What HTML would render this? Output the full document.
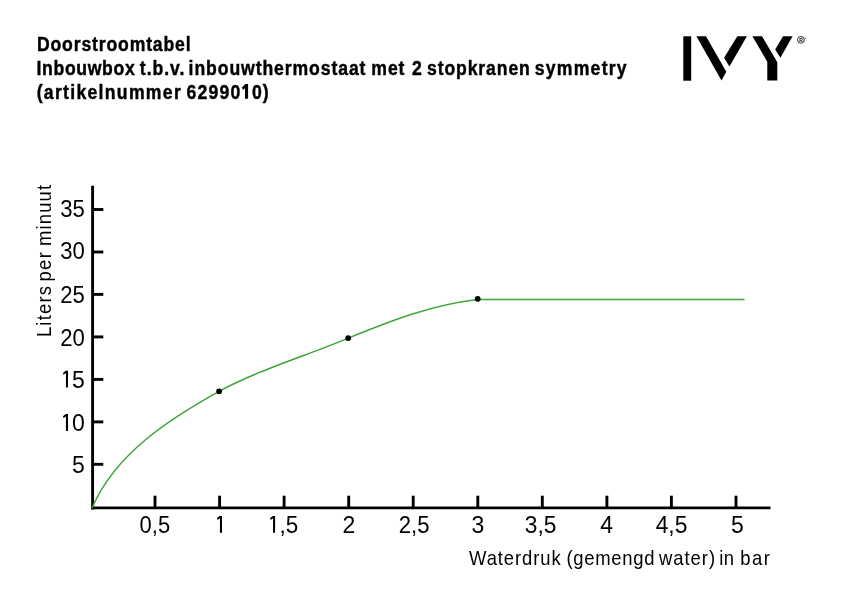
<!DOCTYPE html>
<html><head><meta charset="utf-8">
<style>
html,body{margin:0;padding:0;background:#fff;width:842px;height:595px;overflow:hidden;}
svg{position:absolute;left:0;top:0;will-change:transform;}
text{font-family:"Liberation Sans",sans-serif;fill:#000;}
.t{font-weight:bold;font-size:21.0px;stroke:#000;stroke-width:0.45px;}
.n{font-size:23px;}
.l{font-size:20.5px;}
</style></head><body>
<svg width="842" height="595" viewBox="0 0 842 595">
<text class="t" transform="translate(36.91,50.60) scale(0.840,1)" textLength="183.01" lengthAdjust="spacing">Doorstroomtabel</text>
<text class="t" transform="translate(36.53,74.80) scale(0.840,1)" textLength="116.87" lengthAdjust="spacing">Inbouwbox</text>
<text class="t" transform="translate(139.84,74.80) scale(0.840,1)" textLength="52.95" lengthAdjust="spacing">t.b.v.</text>
<text class="t" transform="translate(188.60,74.80) scale(0.840,1)" textLength="210.60" lengthAdjust="spacing">inbouwthermostaat</text>
<text class="t" transform="translate(371.29,74.80) scale(0.840,1)" textLength="39.53" lengthAdjust="spacing">met</text>
<text class="t" transform="translate(412.01,74.80) scale(0.840,1)" textLength="25.59" lengthAdjust="spacing">2</text>
<text class="t" transform="translate(426.97,74.80) scale(0.840,1)" textLength="122.53" lengthAdjust="spacing">stopkranen</text>
<text class="t" transform="translate(534.73,74.80) scale(0.840,1)" textLength="109.41" lengthAdjust="spacing">symmetry</text>
<text class="t" transform="translate(36.63,98.80) scale(0.840,1)" textLength="171.62" lengthAdjust="spacing">(artikelnummer</text>
<text class="t" transform="translate(186.38,98.80) scale(0.840,1)" textLength="64.17" lengthAdjust="spacing">62990</text>
<text class="t" transform="translate(252.03,98.80) scale(0.840,1)" textLength="19.64" lengthAdjust="spacing">0)</text>
<text class="l" transform="translate(469.03,564.80) scale(0.900,1)" textLength="101.83" lengthAdjust="spacing">Waterdruk</text>
<text class="l" transform="translate(566.45,564.80) scale(0.900,1)" textLength="97.80" lengthAdjust="spacing">(gemengd</text>
<text class="l" transform="translate(658.98,564.80) scale(0.900,1)" textLength="62.31" lengthAdjust="spacing">water)</text>
<text class="l" transform="translate(719.18,564.80) scale(0.900,1)" textLength="16.53" lengthAdjust="spacing">in</text>
<text class="l" transform="translate(740.21,564.80) scale(0.900,1)" textLength="32.95" lengthAdjust="spacing">bar</text>
<g fill="#000">
<rect x="683.3" y="36.3" width="7.9" height="44.4"/>
<polygon points="696.4,36.3 706,36.3 726.3,71.8 721.5,80.6"/>
<polygon points="737.3,36.3 746.9,36.3 729.4,66.5 724.1,57.8"/>
<polygon points="752.4,36.3 762,36.3 777.3,62.2 777.3,80.6 767.3,80.6 767.3,61.7"/>
<polygon points="783,36.3 792.6,36.3 780.4,57.8 775.2,49.5"/>
</g>
<circle cx="800.9" cy="39.8" r="3.4" fill="none" stroke="#000" stroke-width="0.8"/>
<text x="799.3" y="42.1" style="font-size:5px;font-weight:bold">R</text>
<circle cx="805.2" cy="38" r="0.6" fill="#000"/>
<g stroke="#000" stroke-width="2.9" fill="none">
<line x1="92.6" y1="185.7" x2="92.6" y2="509.4"/>
<line x1="91.2" y1="507.9" x2="770.5" y2="507.9"/>
<line x1="92" y1="209.5" x2="103.3" y2="209.5"/>
<line x1="92" y1="252.0" x2="103.3" y2="252.0"/>
<line x1="92" y1="294.4" x2="103.3" y2="294.4"/>
<line x1="92" y1="336.9" x2="103.3" y2="336.9"/>
<line x1="92" y1="379.4" x2="103.3" y2="379.4"/>
<line x1="92" y1="421.9" x2="103.3" y2="421.9"/>
<line x1="92" y1="464.3" x2="103.3" y2="464.3"/>
<line x1="155.0" y1="495.7" x2="155.0" y2="508"/>
<line x1="219.6" y1="495.7" x2="219.6" y2="508"/>
<line x1="284.1" y1="495.7" x2="284.1" y2="508"/>
<line x1="348.7" y1="495.7" x2="348.7" y2="508"/>
<line x1="413.2" y1="495.7" x2="413.2" y2="508"/>
<line x1="477.8" y1="495.7" x2="477.8" y2="508"/>
<line x1="542.3" y1="495.7" x2="542.3" y2="508"/>
<line x1="606.9" y1="495.7" x2="606.9" y2="508"/>
<line x1="671.4" y1="495.7" x2="671.4" y2="508"/>
<line x1="736.0" y1="495.7" x2="736.0" y2="508"/>
</g>
<path d="M92.2 507.6 C115.5 453.5 169.6 418.8 219.1 391.3 C259.9 369.2 305.9 356.0 348.2 338.1 C391.2 320.6 431.3 304.8 477.7 299.4 L744 299.5" fill="none" stroke="#3da536" stroke-width="1.5" stroke-linecap="round"/>
<g fill="#000">
<circle cx="219.1" cy="391.3" r="2.9"/>
<circle cx="348.2" cy="338.1" r="2.9"/>
<circle cx="477.7" cy="298.8" r="2.9"/>
</g>
<g class="n" text-anchor="end">
<text x="84.8" y="216.7" textLength="24.6" lengthAdjust="spacingAndGlyphs">35</text>
<text x="84.8" y="259.2" textLength="24.6" lengthAdjust="spacingAndGlyphs">30</text>
<text x="84.8" y="302.5" textLength="24.6" lengthAdjust="spacingAndGlyphs">25</text>
<text x="84.8" y="346.0" textLength="24.6" lengthAdjust="spacingAndGlyphs">20</text>
<text x="84.8" y="472.5">5</text>
<text x="84.7" y="387.5">5</text>
<text x="84.7" y="430.9">0</text>
</g>
<g class="n">
<text x="139.60" y="532.8" textLength="30.55" lengthAdjust="spacingAndGlyphs">0,5</text>
<text x="279.62" y="532.8" textLength="18.73" lengthAdjust="spacingAndGlyphs">,5</text>
<text x="349.02" y="532.8" text-anchor="middle">2</text>
<text x="398.76" y="532.8" textLength="30.78" lengthAdjust="spacingAndGlyphs">2,5</text>
<text x="478.00" y="532.8" text-anchor="middle">3</text>
<text x="524.82" y="532.8" textLength="31.65" lengthAdjust="spacingAndGlyphs">3,5</text>
<text x="606.70" y="532.8" text-anchor="middle">4</text>
<text x="655.65" y="532.8" textLength="31.67" lengthAdjust="spacingAndGlyphs">4,5</text>
<text x="737.36" y="532.8" text-anchor="middle">5</text>
</g>
<g fill="#000">
<path d="M222.00 516.00V532.80H219.95V518.30L217.50 519.90L217.00 518.10L219.70 516.00Z"/>
<path d="M275.10 516.00V532.80H273.05V518.30L270.60 519.90L270.10 518.10L272.80 516.00Z"/>
<path d="M68.00 370.80V387.60H65.95V373.10L63.50 374.70L63.00 372.90L65.70 370.80Z"/>
<path d="M68.00 414.10V430.90H65.95V416.40L63.50 418.00L63.00 416.20L65.70 414.10Z"/>
<path d="M248.1 84.1V98.8H245.0V88.3L242.9 89.9L242.1 87.2L245.4 84.1Z"/>
</g>
<text class="l" transform="translate(51.00,337.10) rotate(-90) scale(0.900,1)" textLength="56.79" lengthAdjust="spacing">Liters</text>
<text class="l" transform="translate(51.00,281.55) rotate(-90) scale(0.900,1)" textLength="32.61" lengthAdjust="spacing">per</text>
<text class="l" transform="translate(51.00,245.98) rotate(-90) scale(0.900,1)" textLength="67.86" lengthAdjust="spacing">minuut</text>
</svg>
</body></html>
